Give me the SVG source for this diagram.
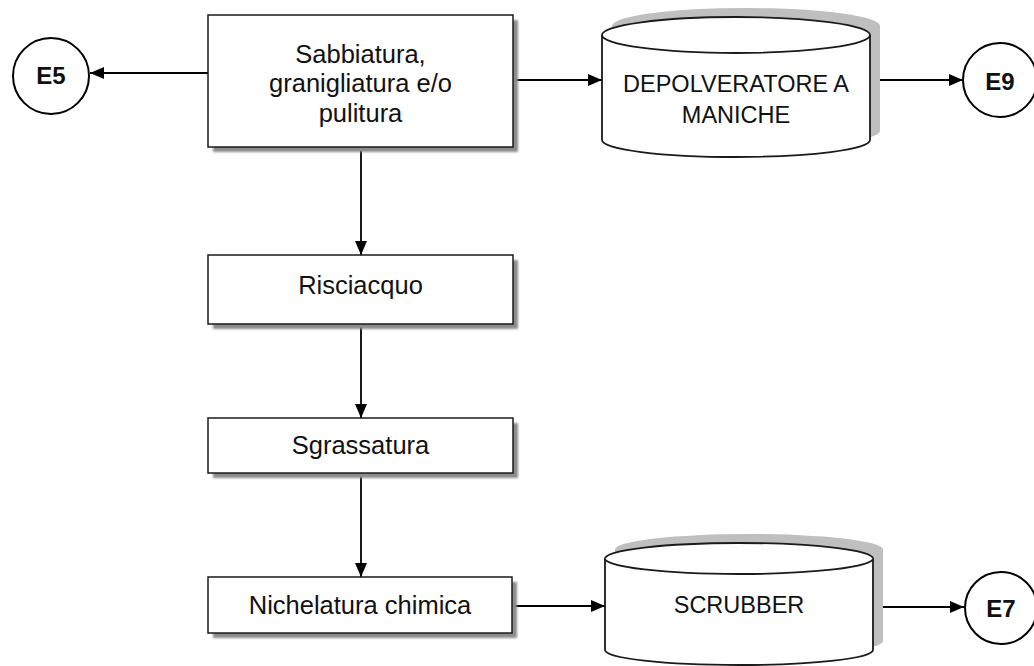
<svg xmlns="http://www.w3.org/2000/svg" width="1034" height="666" viewBox="0 0 1034 666">
  <style>
    .box { fill: #ffffff; stroke: #1a1a1a; stroke-width: 1.5; }
    .shadow { fill: #8c8c8c; filter: url(#soft); }
    .cylshadow { fill: #bfbfbf; }
    .cyl { fill: #ffffff; stroke: #1a1a1a; stroke-width: 1.8; }
    .term { fill: #ffffff; stroke: #000000; stroke-width: 2; }
    .lbl { font-family: "Liberation Sans", Arial, sans-serif; font-size: 25.5px; fill: #111111; text-anchor: middle; }
    .caps { font-size: 23.5px; }
    .tlbl { font-family: "Liberation Sans", Arial, sans-serif; font-size: 24px; font-weight: bold; fill: #111111; text-anchor: middle; }
    .conn { stroke: #000000; stroke-width: 1.8; fill: none; marker-end: url(#arrow); }
  </style>
  <defs>
    <filter id="soft" x="-5%" y="-5%" width="110%" height="110%">
      <feGaussianBlur stdDeviation="0.8"/>
    </filter>
    <marker id="arrow" markerUnits="userSpaceOnUse" markerWidth="14" markerHeight="12" refX="14" refY="6" orient="auto">
      <path d="M0,0 L14,6 L0,12 z" fill="#000000"/>
    </marker>
  </defs>

  <rect width="1034" height="666" fill="#ffffff"/>

  <!-- connectors -->
  <g id="connectors">
    <line class="conn" x1="208" y1="73" x2="90" y2="73"/>
    <line class="conn" x1="513" y1="80" x2="602" y2="80"/>
    <line class="conn" x1="870" y1="80" x2="963" y2="80"/>
    <line class="conn" x1="361" y1="147" x2="361" y2="255"/>
    <line class="conn" x1="361" y1="324" x2="361" y2="418"/>
    <line class="conn" x1="361" y1="473" x2="361" y2="577"/>
    <line class="conn" x1="512" y1="606" x2="605" y2="606"/>
    <line class="conn" x1="873" y1="607" x2="964" y2="607"/>
  </g>

  <!-- process steps -->
  <g id="sabbiatura">
    <rect class="shadow" x="213" y="20" width="305" height="132"/>
    <rect class="box" x="208" y="15" width="305" height="132"/>
    <text class="lbl" x="360.5" y="63">Sabbiatura,</text>
    <text class="lbl" x="360.5" y="92">granigliatura e/o</text>
    <text class="lbl" x="360.5" y="122">pulitura</text>
  </g>

  <g id="risciacquo">
    <rect class="shadow" x="213" y="260" width="305" height="69"/>
    <rect class="box" x="208" y="255" width="305" height="69"/>
    <text class="lbl" x="360.5" y="294">Risciacquo</text>
  </g>

  <g id="sgrassatura">
    <rect class="shadow" x="213" y="423" width="305" height="55"/>
    <rect class="box" x="208" y="418" width="305" height="55"/>
    <text class="lbl" x="360.5" y="454">Sgrassatura</text>
  </g>

  <g id="nichelatura">
    <rect class="shadow" x="213" y="582" width="304" height="56"/>
    <rect class="box" x="208" y="577" width="304" height="56"/>
    <text class="lbl" x="360" y="614">Nichelatura chimica</text>
  </g>

  <!-- abatement units -->
  <g id="depolveratore">
    <path class="cylshadow" d="M612,26 A134,18 0 0 1 880,26 L880,131 A134,17 0 0 1 612,131 Z"/>
    <path class="cyl" d="M602,35 A134,18 0 0 1 870,35 L870,140 A134,17 0 0 1 602,140 Z"/>
    <path class="cyl" d="M602,35 A134,18 0 0 0 870,35" fill="none"/>
    <text class="lbl caps" x="736" y="92">DEPOLVERATORE A</text>
    <text class="lbl caps" x="736" y="123">MANICHE</text>
  </g>

  <g id="scrubber">
    <path class="cylshadow" d="M615,549.5 A134,15.5 0 0 1 883,549.5 L883,641 A134,15 0 0 1 615,641 Z"/>
    <path class="cyl" d="M605,558.5 A134,15.5 0 0 1 873,558.5 L873,650 A134,15 0 0 1 605,650 Z"/>
    <path class="cyl" d="M605,558.5 A134,15.5 0 0 0 873,558.5" fill="none"/>
    <text class="lbl caps" x="739" y="613">SCRUBBER</text>
  </g>

  <!-- emission points -->
  <g id="e5">
    <circle class="term" cx="51" cy="76" r="38"/>
    <text class="tlbl" x="51" y="84">E5</text>
  </g>

  <g id="e9">
    <circle class="term" cx="1000" cy="80" r="37"/>
    <text class="tlbl" x="1000" y="90">E9</text>
  </g>

  <g id="e7">
    <circle class="term" cx="1001" cy="608" r="36"/>
    <text class="tlbl" x="1001" y="617">E7</text>
  </g>
</svg>
